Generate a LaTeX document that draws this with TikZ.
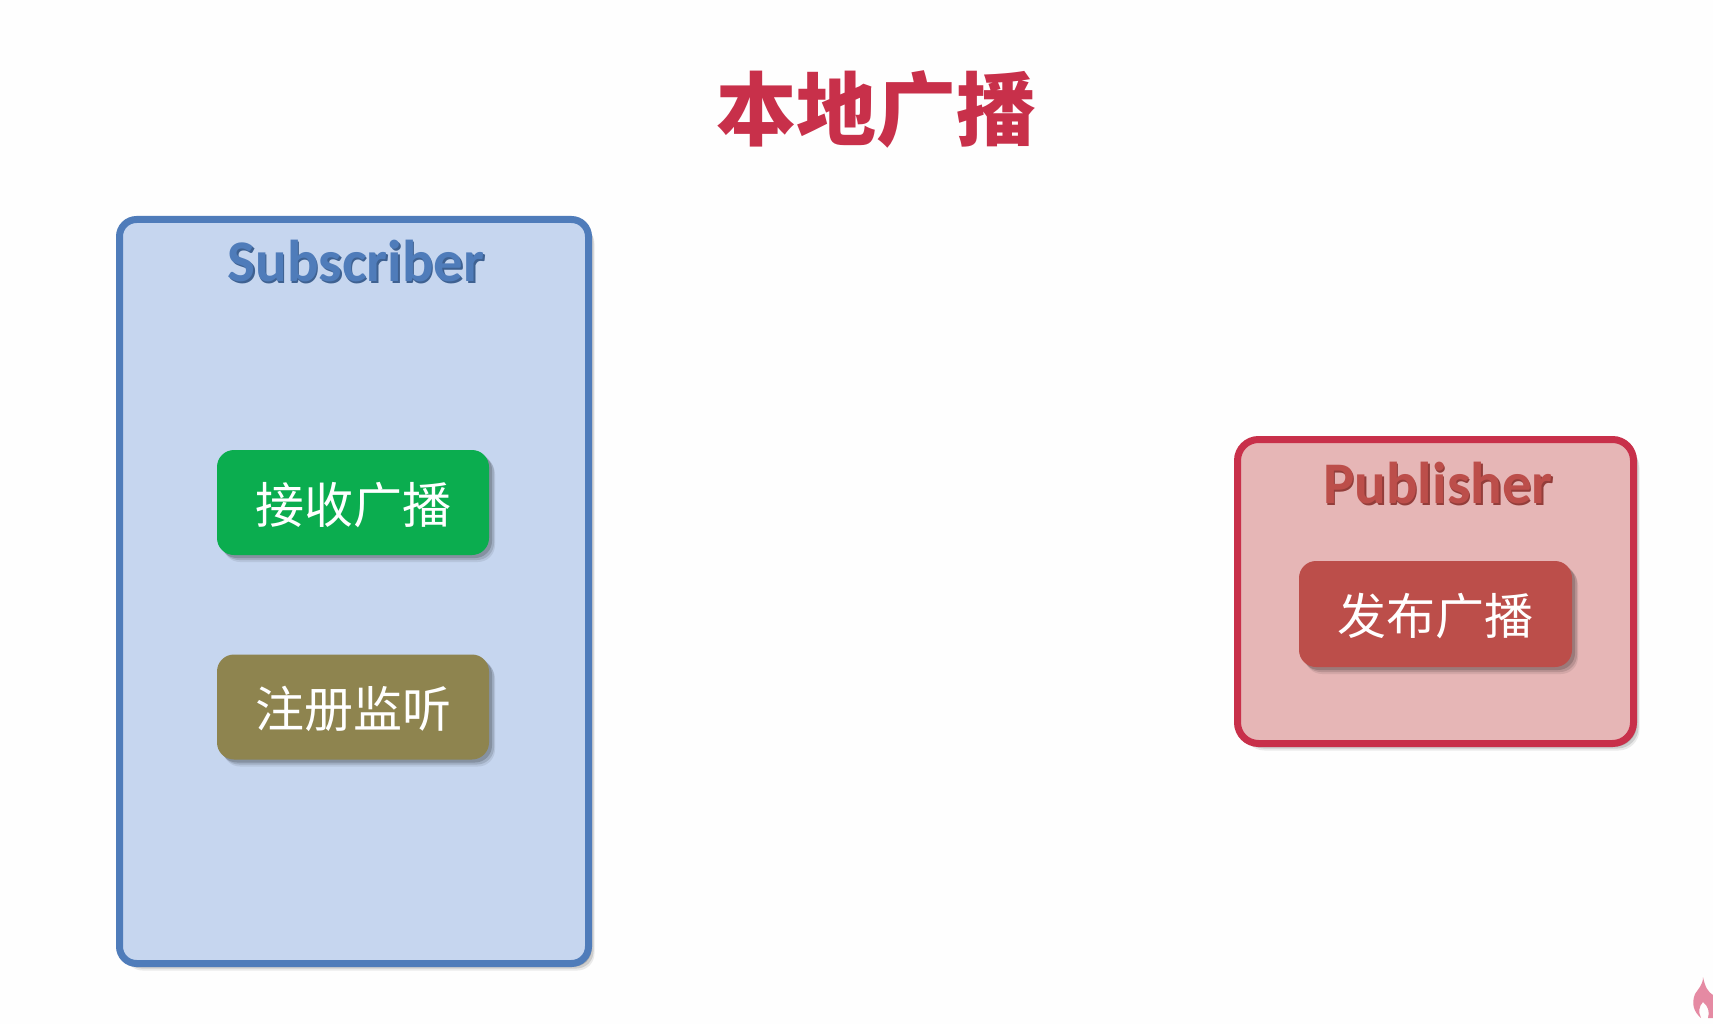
\documentclass[tikz,border=0pt]{standalone}
\usepackage{fontspec}
\setmainfont{Carlito}
\newfontfamily\cjk{Noto Sans CJK SC}
\usetikzlibrary{shadows}
\definecolor{titlered}{HTML}{C8304A}
\definecolor{subfill}{HTML}{C6D6EF}
\definecolor{subline}{HTML}{4F7CBA}
\definecolor{pubfill}{HTML}{E6B6B6}
\definecolor{btngreen}{HTML}{0BAD4F}
\definecolor{btnbrown}{HTML}{8E844F}
\definecolor{btnred}{HTML}{BC4E4A}
\definecolor{flamepink}{HTML}{E58AA3}
\definecolor{paper}{HTML}{FEFEFE}
\newcommand{\shadowed}[2]{\leavevmode\rlap{\kern1.5pt\raisebox{-1.5pt}{\textcolor{black!22!#2}{#1}}}\textcolor{#2}{#1}}
\tikzset{
  softshadow/.style={
    drop shadow={shadow xshift=6pt, shadow yshift=-7pt, opacity=.08, fill=black},
    drop shadow={shadow xshift=5pt, shadow yshift=-5pt, opacity=.12, fill=black},
    drop shadow={shadow xshift=3pt, shadow yshift=-3pt, opacity=.16, fill=black}},
  panel/.style={line width=7pt, rounded corners=17pt, softshadow},
  btn/.style={rounded corners=17pt, softshadow, minimum width=272pt, minimum height=105pt,
    inner sep=0pt, text=white, text height=47pt, text depth=6pt, font=\cjk\fontsize{49}{49}\selectfont},
  panelname/.style={inner sep=0pt, font=\fontsize{59}{59}\selectfont\bfseries},
}
\begin{document}
\begin{tikzpicture}[x=1pt, y=-1pt]
\useasboundingbox[fill=paper] (0,0) rectangle (1713,1024);

\node[inner sep=0pt, text=titlered, font=\cjk\fontsize{80}{80}\selectfont\bfseries] (title) at (876,109) {本地广播};

\node[panel, fill=subfill, draw=subline, minimum width=469pt, minimum height=744pt] (subscriber) at (354,591.5) {};
\node[panelname] (subname) at (356,262) {\shadowed{Subscriber}{subline}};
\node[btn, fill=btngreen] (recv) at (353,502.5) {接收广播};
\node[btn, fill=btnbrown] (listen) at (353,707) {注册监听};

\node[panel, fill=pubfill, draw=titlered, minimum width=396pt, minimum height=304pt, rounded corners=21pt] (publisher) at (1435.5,591.5) {};
\node[panelname] (pubname) at (1438,484) {\shadowed{Publisher}{btnred}};
\node[btn, fill=btnred, minimum width=273pt, minimum height=106pt] (publish) at (1435.5,614) {发布广播};

% flame mark in the corner
\fill[flamepink] (1703,977) .. controls (1705,987) and (1708,992) .. (1713,995) -- (1713,1018) -- (1708,1018)
  .. controls (1710,1012) and (1708,1006) .. (1703,1002) .. controls (1699,1006) and (1698,1012) .. (1701,1018)
  .. controls (1694,1012) and (1691,1004) .. (1695,994) .. controls (1698,989) and (1703,985) .. (1703,977) -- cycle;
\end{tikzpicture}
\end{document}
